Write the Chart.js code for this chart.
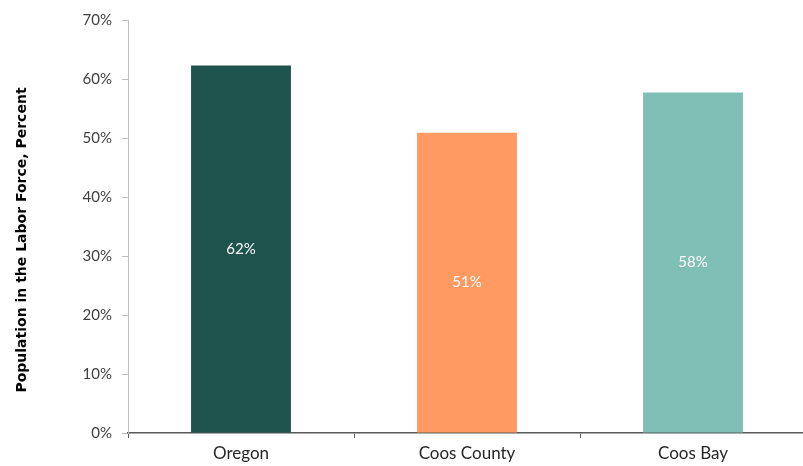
<!DOCTYPE html>
<html>
<head>
<meta charset="utf-8">
<script src="https://cdn.jsdelivr.net/npm/chart.js@4"></script>
<style>
html,body{margin:0;padding:0;background:#fff;}
#wrap{width:803px;height:466px;position:relative;}
</style>
</head>
<body>
<div id="wrap"><canvas id="c" width="803" height="466"></canvas></div>
<script>
const categories = ["Oregon", "Coos County", "Coos Bay"];
const values = [62.3, 50.9, 57.7];
const labels = ["62%", "51%", "58%"];
const barColors = ["#1e544d", "#ff9b62", "#80bfb5"];
const yTicks = [0, 10, 20, 30, 40, 50, 60, 70];
const yTitle = "Population in the Labor Force, Percent";

const barLabelPlugin = {
  id: 'barLabels',
  afterDatasetsDraw(chart) {
    const ctx = chart.ctx;
    const meta = chart.getDatasetMeta(0);
    ctx.save();
    ctx.fillStyle = '#ffffff';
    ctx.font = '15px Lato';
    ctx.textAlign = 'center';
    ctx.textBaseline = 'middle';
    meta.data.forEach((bar, i) => {
      const y = (bar.y + bar.base) / 2;
      ctx.fillText(labels[i], bar.x, y);
    });
    ctx.restore();
  }
};

const yTitlePlugin = {
  id: 'yTitle',
  afterDraw(chart) {
    const ctx = chart.ctx;
    ctx.save();
    ctx.translate(22, 240);
    ctx.rotate(-Math.PI / 2);
    ctx.fillStyle = '#000000';
    ctx.font = 'bold 14px "DejaVu Sans"';
    ctx.textAlign = 'center';
    ctx.textBaseline = 'middle';
    ctx.fillText(yTitle, 0, 0);
    ctx.restore();
  }
};

// extend the category axis slightly past the right canvas edge, as in the reference
const extendXPlugin = {
  id: 'extendX',
  afterLayout(chart) {
    const x = chart.scales.x;
    x.right = 806;
    x.width = x.right - x.left;
    chart.chartArea.right = 806;
    chart.chartArea.width = 806 - chart.chartArea.left;
    x.configure();
  }
};

new Chart(document.getElementById('c'), {
  type: 'bar',
  data: {
    labels: categories,
    datasets: [{
      data: values,
      backgroundColor: barColors,
      borderWidth: 0,
      categoryPercentage: 1,
      barPercentage: 0.442
    }]
  },
  plugins: [extendXPlugin, barLabelPlugin, yTitlePlugin],
  options: {
    responsive: false,
    animation: false,
    devicePixelRatio: 1,
    layout: { padding: { top: 20, right: 0, left: 0, bottom: 0 } },
    plugins: { legend: { display: false }, tooltip: { enabled: false } },
    scales: {
      x: {
        grid: { display: true, offset: true, drawOnChartArea: false, drawTicks: true, tickLength: 5, color: '#595959', lineWidth: 1 },
        border: { display: true, color: '#595959', width: 1.5 },
        ticks: { color: '#262626', font: { family: 'Lato', size: 17 }, padding: 5 },
        afterFit(scale) { scale.height = 33; }
      },
      y: {
        min: 0, max: 70,
        afterBuildTicks(scale) { scale.ticks = yTicks.map(v => ({ value: v })); },
        grid: { display: true, drawOnChartArea: false, drawTicks: true, tickLength: 6, color: '#bfbfbf' },
        border: { display: true, color: '#bfbfbf', width: 1 },
        ticks: { color: '#404040', font: { family: 'Lato', size: 15 }, padding: 10, callback: v => v + '%' },
        title: { display: false },
        afterFit(scale) { scale.width = 128; }
      }
    }
  }
});
</script>
</body>
</html>
